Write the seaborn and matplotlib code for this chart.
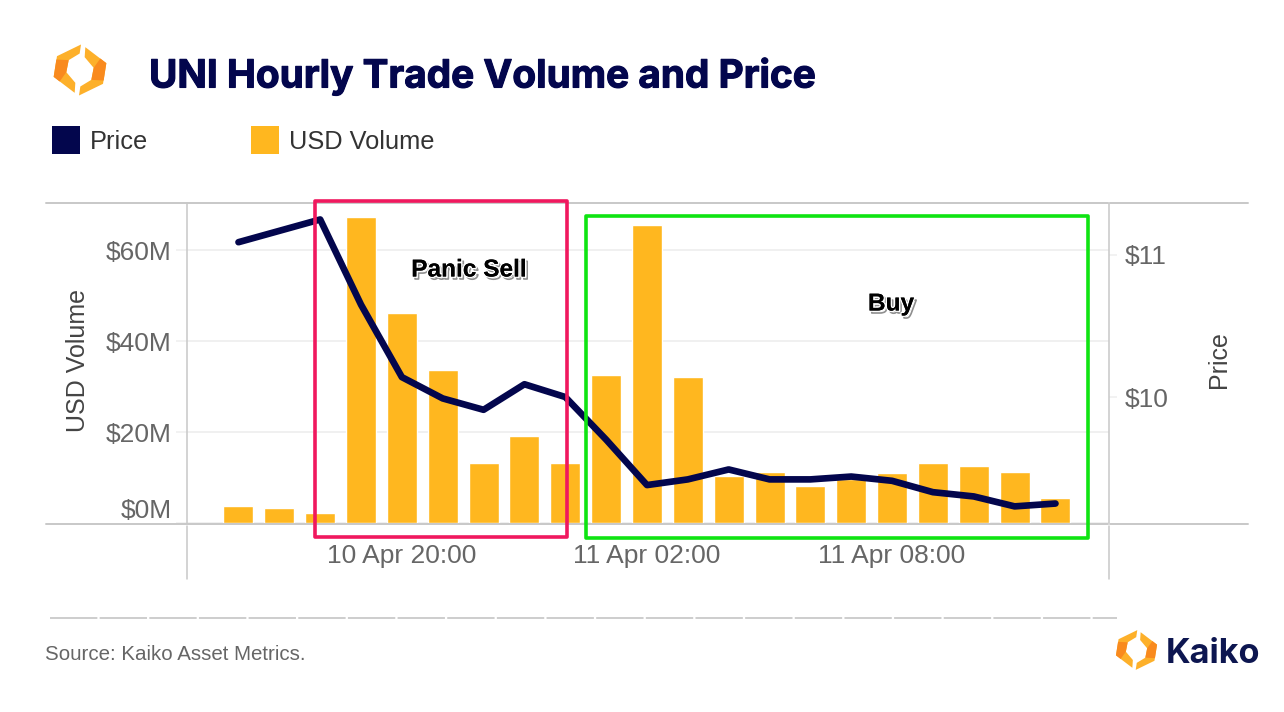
import numpy as np
import pandas as pd
import matplotlib
matplotlib.use("Agg")
import matplotlib.pyplot as plt
import matplotlib.patheffects as pe
from matplotlib.lines import Line2D
from matplotlib.patches import Patch, Polygon, Rectangle
import seaborn as sns

hours = ["10 Apr 16:00", "10 Apr 17:00", "10 Apr 18:00", "10 Apr 19:00", "10 Apr 20:00", "10 Apr 21:00",
         "10 Apr 22:00", "10 Apr 23:00", "11 Apr 00:00", "11 Apr 01:00", "11 Apr 02:00", "11 Apr 03:00",
         "11 Apr 04:00", "11 Apr 05:00", "11 Apr 06:00", "11 Apr 07:00", "11 Apr 08:00", "11 Apr 09:00",
         "11 Apr 10:00", "11 Apr 11:00", "11 Apr 12:00"]
usd_volume = [3.8, 3.4, 2.1, 67.2, 46.1, 33.7, 13.1, 19.2, 13.1, 32.5, 65.5, 32.1,
              10.4, 11.3, 8.2, 9.6, 10.9, 13.1, 12.6, 11.3, 5.6]
price = [11.09, 11.17, 11.25, 10.65, 10.14, 9.99, 9.91, 10.09, 10.00, 9.70, 9.38, 9.42,
         9.49, 9.42, 9.42, 9.44, 9.41, 9.33, 9.30, 9.23, 9.25]
x_tick_hours = ["10 Apr 20:00", "11 Apr 02:00", "11 Apr 08:00"]
vol_ticks = [0, 20, 40, 60]
price_ticks = [10, 11]

NAVY = "#03064d"
AMBER = "#ffb71f"
W, H = 1284, 712

sns.set_theme(style="white")
plt.rcParams["font.family"] = ["Liberation Sans", "DejaVu Sans"]

fig = plt.figure(figsize=(W / 100, H / 100), dpi=100, facecolor="white")
L, R, T, B = 187, 1109, 203, 523
ax = fig.add_axes([L / W, 1 - B / H, (R - L) / W, (B - T) / H])

df = pd.DataFrame({"hour": hours, "volume": usd_volume, "price": price, "pos": np.arange(len(hours))})

sns.barplot(data=df, x="hour", y="volume", color=AMBER, saturation=1, width=0.734, ax=ax, zorder=3)
ax.set_xlim(-1.26, 21.31)
ax.set_ylim(0, 70.34)
ax.set_xlabel("")
ax.set_ylabel("USD Volume", fontsize=18, color="#444444")
ax.yaxis.set_label_coords((90 - L) / (R - L), (B - 361) / (B - T))
ax.set_xticks([hours.index(h) for h in x_tick_hours])
ax.set_xticklabels(x_tick_hours)
ax.set_yticks(vol_ticks)
ax.set_yticklabels([f"${v}M" for v in vol_ticks])
ax.tick_params(axis="x", length=0, pad=15, labelsize=19, labelcolor="#666666")
ax.tick_params(axis="y", left=True, length=8, width=1.2, color="#f0f0f0", pad=3, labelsize=19, labelcolor="#666666")
ax.yaxis.grid(True, color="#f0f0f0", linewidth=1.4, zorder=0)
ax.set_axisbelow(True)
ax.get_yticklabels()[0].set_va("bottom")
for s in ax.spines.values():
    s.set_visible(False)

ax2 = ax.twinx()
sns.lineplot(data=df, x="pos", y="price", color=NAVY, linewidth=4.8, ax=ax2, legend=False,
             solid_capstyle="round", solid_joinstyle="round", zorder=5)
ax2.set_xlim(-1.26, 21.31)
ax2.set_ylim(9.113, 11.366)
ax2.set_xlabel("")
ax2.set_ylabel("Price", fontsize=18, color="#444444")
ax2.yaxis.set_label_coords((1207 - L) / (R - L), (B - 360) / (B - T))
ax2.set_yticks(price_ticks)
ax2.set_yticklabels([f"${v}" for v in price_ticks])
ax2.tick_params(axis="y", right=True, length=6, width=1.2, color="#f0f0f0", pad=5, labelsize=19, labelcolor="#666666")
ax2.grid(False)
for s in ax2.spines.values():
    s.set_visible(False)


def px(x, y):
    return x / W, 1 - y / H


def fig_line(x0, y0, x1, y1, color="#c8c8c8", lw=1.3, **kw):
    (a, b), (c, d) = px(x0, y0), px(x1, y1)
    fig.add_artist(Line2D([a, c], [b, d], transform=fig.transFigure, color=color, lw=lw, **kw))


# frame
for y in (203, 524):
    fig_line(46, y, 1108, y, lw=1.4)
    fig_line(1110, y, 1248, y, lw=1.4)
for x in (187, 1109):
    fig_line(x, 203, x, 523, lw=1.1)
    fig_line(x, 526, x, 579, lw=1.1)
fig_line(50, 618, 1117, 618, color="#c0c0c0", lw=1.1, linestyle=(0, (31, 1.5)))


def frame(x0, y0, x1, y1, color):
    a, b = px(x0, y1)
    fig.add_artist(Rectangle((a, b), (x1 - x0) / W, (y1 - y0) / H, transform=fig.transFigure, fill=False,
                             edgecolor=color, linewidth=2.6, joinstyle="round", zorder=6))


frame(315, 201, 567, 537, "#f0185e")
frame(586, 216, 1088, 538, "#0fe412")

shadow = [pe.SimpleLineShadow(offset=(1.6, -1.8), shadow_color="#444444", alpha=0.6, linewidth=1.2),
          pe.withStroke(linewidth=2, foreground="white"),
          pe.Normal()]
for label, (x, y) in {"Panic Sell": (469, 270), "Buy": (891, 304)}.items():
    fig.text(*px(x, y), label, fontsize=17.6, fontweight="bold", color="black", ha="center", va="center",
             path_effects=shadow, zorder=7)

# titles and footer
fig.text(*px(149, 76), "UNI Hourly Trade Volume and Price", fontfamily="Inter", fontweight="bold",
         fontsize=27.9, color=NAVY, ha="left", va="center",
         path_effects=[pe.withStroke(linewidth=0.8, foreground=NAVY)])
fig.text(*px(45, 654), "Source: Kaiko Asset Metrics.", fontsize=14.8, color="#666666", ha="left", va="center")
fig.text(*px(1166, 654), "Kaiko", fontfamily="Inter", fontweight="bold", fontsize=24.6, color="#0d1650",
         ha="left", va="center")

# legend
fs = 18.3
leg = fig.legend(handles=[Patch(facecolor=NAVY, linewidth=0, label="Price"),
                          Patch(facecolor=AMBER, linewidth=0, label="USD Volume")],
                 ncols=2, loc="lower left", bbox_to_anchor=px(52, 154), bbox_transform=fig.transFigure,
                 frameon=False, fontsize=fs, borderpad=0, borderaxespad=0, handlelength=20.16 / fs,
                 handleheight=1.318, handletextpad=0.38, columnspacing=4.06, labelcolor="#333333")

# logos
RIGHT_PIECE = np.array([(137, 50), (200, 98), (190, 160), (118, 195), (122, 168), (155, 148), (162, 112), (135, 80)], float)
RIGHT_SHADE = np.array([(162, 112), (182, 84), (200, 98), (192, 150), (155, 148)], float)
CENTER = np.array([121, 118.5])


def logo(cx, cy, scale):
    for sign in (1, -1):
        for pts, col in ((RIGHT_PIECE, "#fdb02a"), (RIGHT_SHADE, "#f98a1e")):
            xy = (pts - CENTER) * sign * scale + (cx, cy)
            fig.add_artist(Polygon(np.c_[xy[:, 0] / W, 1 - xy[:, 1] / H], closed=True, transform=fig.transFigure,
                                   facecolor=col, edgecolor="none"))


logo(80, 70, 1 / 3)
logo(1136.5, 650, 0.26)

fig.savefig("out.png", dpi=100, facecolor="white")
